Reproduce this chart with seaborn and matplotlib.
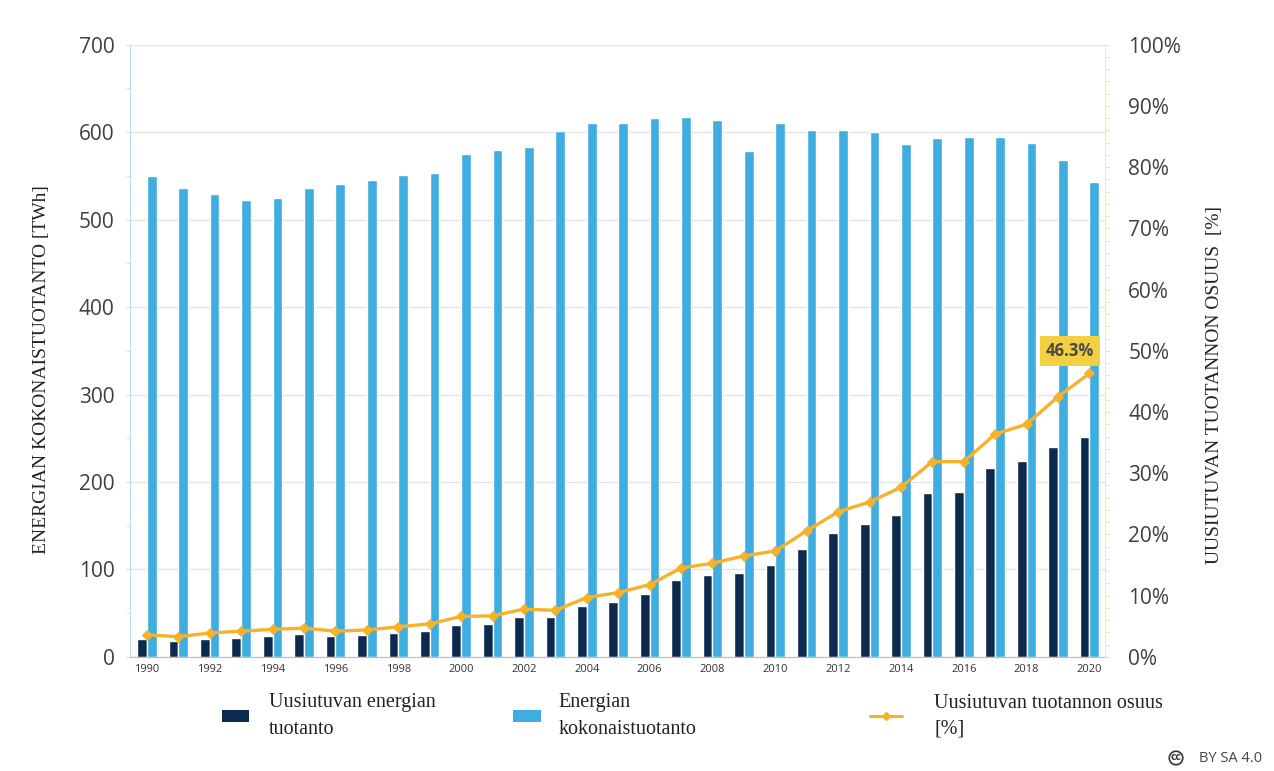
import numpy as np
import pandas as pd
import matplotlib
matplotlib.use("Agg")
import matplotlib.pyplot as plt
import seaborn as sns
from matplotlib.patches import Patch
from matplotlib.lines import Line2D
from matplotlib.ticker import MultipleLocator, FixedLocator, PercentFormatter

## data
years = list(range(1990, 2021))
renewable = [20, 18, 21, 22, 24, 26, 24, 25, 27, 30, 37, 38, 46, 46, 58, 63, 72, 88,
             94, 96, 105, 123, 142, 152, 162, 187, 189, 216, 224, 240, 251]
total = [550, 536, 529, 523, 525, 536, 541, 545, 551, 553, 575, 580, 583, 601, 610, 611,
         616, 617, 614, 578, 611, 603, 602, 600, 587, 593, 594, 595, 588, 568, 543]
share = [3.6, 3.3, 3.9, 4.2, 4.5, 4.7, 4.2, 4.4, 4.9, 5.4, 6.6, 6.7, 7.8, 7.6, 9.7, 10.5,
         11.8, 14.5, 15.3, 16.5, 17.3, 20.6, 23.7, 25.3, 27.7, 31.9, 31.9, 36.4, 38.0, 42.5, 46.3]

series_names = ["Uusiutuvan energian\ntuotanto", "Energian\nkokonaistuotanto"]
line_name = "Uusiutuvan tuotannon osuus\n[%]"

dark = "#0C2A4D"
light = "#3FADE0"
orange = "#F5B22A"

df = pd.DataFrame({
    "year": years * 2,
    "value": renewable + total,
    "series": [series_names[0]] * len(years) + [series_names[1]] * len(years),
})

sns.set_style("white")
plt.rcParams["font.family"] = ["Open Sans", "DejaVu Sans"]

fig = plt.figure(figsize=(12.74, 7.71), dpi=100)
ax = fig.add_axes([0.102, 0.148, 0.765, 0.794])

sns.barplot(data=df, x="year", y="value", hue="series", palette=[dark, light],
            width=0.62, saturation=1, ax=ax, legend=False)
ax.set_xlim(-0.54, 30.48)
ax.set_ylim(0, 700)
ax.set_xlabel("")
ax.set_ylabel("")
ax.set_xticks(range(0, len(years), 2))
ax.set_xticklabels([str(y) for y in years[::2]], fontsize=8, color="#333333")
ax.xaxis.set_minor_locator(FixedLocator(np.arange(-0.5, 31, 1)))
ax.tick_params(axis="x", which="major", length=0, pad=5)
ax.tick_params(axis="x", which="minor", length=3, color="#999999")
ax.set_yticks(range(0, 701, 100))
ax.yaxis.set_minor_locator(MultipleLocator(50))
ax.tick_params(axis="y", which="both", length=3, color="#C9E3EE", labelsize=15,
               labelcolor="#404040", pad=8)
ax.yaxis.grid(True, color="#E4E4E4", linewidth=1)
ax.set_axisbelow(True)
for s in ["top", "right"]:
    ax.spines[s].set_visible(False)
ax.spines["left"].set_color("#BFDEEA")
ax.spines["bottom"].set_color("#BBBBBB")

## percentage line on the right axis
ax2 = ax.twinx()
sns.lineplot(x=np.arange(len(years)), y=share, ax=ax2, color=orange, linewidth=2.4,
             marker="D", markersize=5, markeredgecolor=orange)
ax2.set_ylim(0, 100)
ax2.set_xlim(-0.54, 30.48)
ax2.set_yticks(range(0, 101, 10))
ax2.yaxis.set_major_formatter(PercentFormatter(decimals=0))
ax2.yaxis.set_minor_locator(MultipleLocator(2))
ax2.tick_params(axis="y", which="both", length=3, color="#F8DC9C", labelsize=15,
                labelcolor="#404040", pad=14)
ax2.grid(False)
for s in ["top", "left", "bottom"]:
    ax2.spines[s].set_visible(False)
ax2.spines["right"].set_color("#FBE5B0")

ax2.text(29.37, 50.0, f"{share[-1]:.1f}%", ha="center", va="center", fontsize=12,
         fontweight="bold", color="#4A4A4A",
         bbox=dict(boxstyle="square,pad=0.35", fc="#F3CF42", ec="none"))

## axis titles
serif = ["Liberation Serif", "DejaVu Serif"]
fig.text(42 / 1274, 1 - 370 / 771, "ENERGIAN KOKONAISTUOTANTO [TWh]", rotation=90,
         ha="center", va="center", fontsize=14, family=serif, color="#222222")
fig.text(1215 / 1274, 1 - 385 / 771, "UUSIUTUVAN TUOTANNON OSUUS  [%]", rotation=90,
         ha="center", va="center", fontsize=14, family=serif, color="#222222")

## legend, three separate entries
entries = [
    (Patch(facecolor=dark, edgecolor="none"), series_names[0], 222, 1.35, 1.0),
    (Patch(facecolor=light, edgecolor="none"), series_names[1], 513, 1.4, 0.85),
    (Line2D([], [], color=orange, linewidth=2.2, marker="D", markersize=4), line_name,
     870, 1.6, 1.6),
]
for handle, label, xpix, hlen, pad in entries:
    leg = fig.legend(handles=[handle], labels=[label], loc="center left",
                     bbox_to_anchor=(xpix / 1274, 1 - 716 / 771), frameon=False,
                     prop={"family": serif, "size": 14.5}, handlelength=hlen,
                     handleheight=0.55, handletextpad=pad, borderpad=0, borderaxespad=0)
    for t in leg.get_texts():
        t.set_linespacing(1.5)
        t.set_color("#222222")

fig.text(1176 / 1274, 1 - 758 / 771, "cc", ha="center", va="center", fontsize=7.5,
         fontweight="bold", color="#333333",
         bbox=dict(boxstyle="circle,pad=0.12", fc="white", ec="#333333", lw=1.2))
fig.text(1231 / 1274, 1 - 758 / 771, "BY SA 4.0", ha="center", va="center",
         fontsize=10.5, color="#444444")

fig.savefig("out.png", dpi=100)
